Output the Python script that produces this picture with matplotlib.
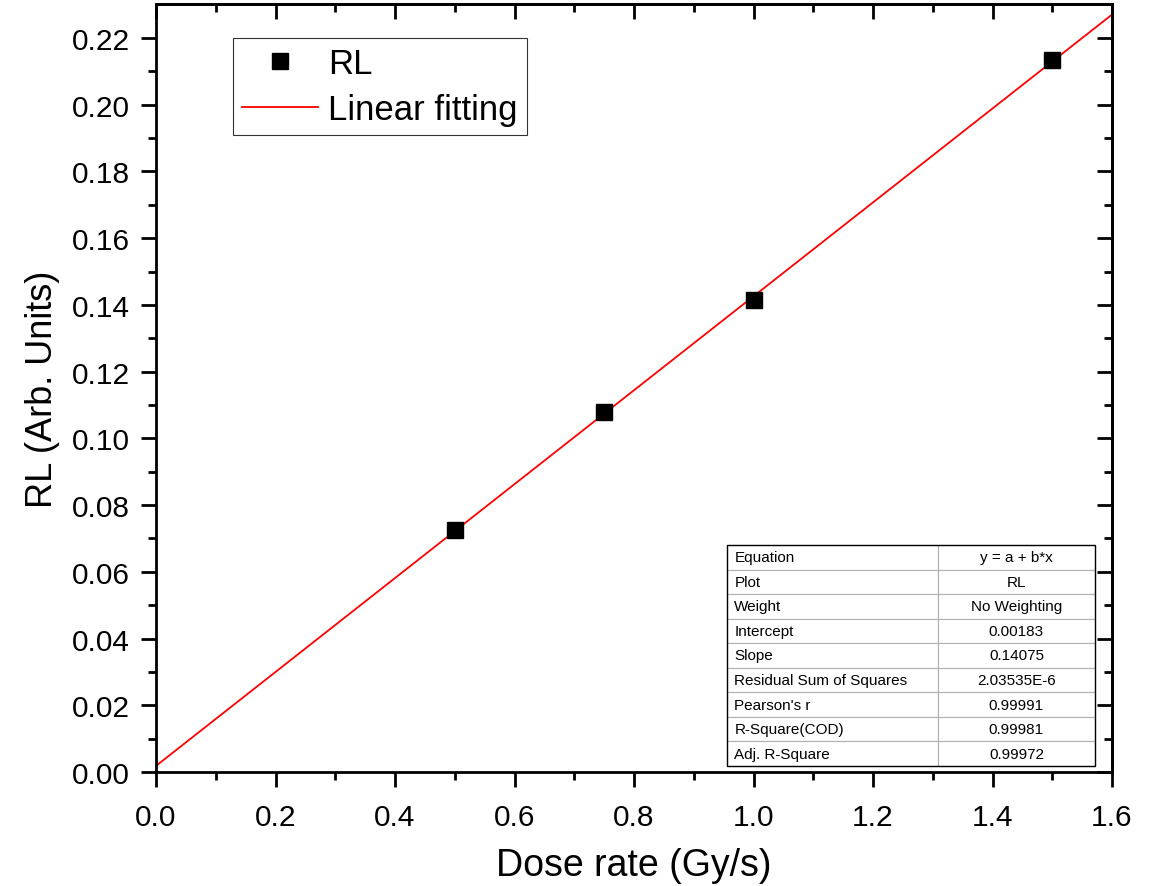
import numpy as np
import matplotlib.pyplot as plt
from matplotlib.patches import Rectangle

plt.rcParams['font.family'] = ['Liberation Sans', 'DejaVu Sans']

dose = [0.5, 0.75, 1.0, 1.5]
rl = [0.0725, 0.108, 0.1415, 0.2135]

intercept = 0.00183
slope = 0.14075

table_names = ["Equation", "Plot", "Weight", "Intercept", "Slope",
               "Residual Sum of Squares", "Pearson's r", "R-Square(COD)",
               "Adj. R-Square"]
table_values = ["y = a + b*x", "RL", "No Weighting", "0.00183", "0.14075",
                "2.03535E-6", "0.99991", "0.99981", "0.99972"]

fig = plt.figure(figsize=(11.55, 8.87), dpi=100)
ax = fig.add_axes([156/1155, 1-773/887, (1112-156)/1155, (773-5)/887])

x_fit = np.linspace(0, 1.6, 2)
ax.plot(dose, rl, linestyle='none', marker='s', markersize=12,
        color='black', label='RL', zorder=3)
ax.plot(x_fit, intercept + slope*x_fit, color='red', linewidth=1.3,
        label='Linear fitting', zorder=2)

ax.set_xlim(0, 1.6)
ax.set_ylim(0, 0.2302)
ax.set_xticks(np.arange(0, 1.61, 0.2))
ax.set_xticks(np.arange(0.1, 1.6, 0.2), minor=True)
ax.set_yticks(np.arange(0, 0.221, 0.02))
ax.set_yticks(np.arange(0.01, 0.23, 0.02), minor=True)
ax.xaxis.set_major_formatter(plt.FormatStrFormatter('%.1f'))
ax.yaxis.set_major_formatter(plt.FormatStrFormatter('%.2f'))

for s in ax.spines.values():
    s.set_linewidth(2)
ax.tick_params(which='major', length=11, width=2, labelsize=21.5)
ax.tick_params(which='minor', length=5.5, width=2)
ax.tick_params(axis='x', which='both', direction='out', pad=11)
ax.tick_params(axis='y', which='both', direction='out', pad=8)

# top and right ticks pointing inwards
axt = ax.secondary_xaxis('top')
axt.set_xticks(np.arange(0, 1.61, 0.2))
axt.set_xticks(np.arange(0.1, 1.6, 0.2), minor=True)
axt.tick_params(which='major', direction='in', length=11, width=2, labeltop=False)
axt.tick_params(which='minor', direction='in', length=5.5, width=2)
axt.spines['top'].set_linewidth(2)
axr = ax.secondary_yaxis('right')
axr.set_yticks(np.arange(0, 0.221, 0.02))
axr.set_yticks(np.arange(0.01, 0.23, 0.02), minor=True)
axr.tick_params(which='major', direction='in', length=11, width=2, labelright=False)
axr.tick_params(which='minor', direction='in', length=5.5, width=2)
axr.spines['right'].set_linewidth(2)

ax.set_xlabel('Dose rate (Gy/s)', fontsize=27, labelpad=12)
ax.set_ylabel('RL (Arb. Units)', fontsize=26, labelpad=8)

leg = ax.legend(loc='upper left', bbox_to_anchor=(0.0805, 0.9557), fontsize=25,
                frameon=True, fancybox=False, handlelength=2.2,
                handletextpad=0.3, borderpad=0.25, labelspacing=0.38,
                borderaxespad=0)
leg.get_frame().set_edgecolor('black')
leg.get_frame().set_linewidth(0.8)

# fit result table
x0 = (727-156)/956
x1 = (1095-156)/956
y0 = (773-767)/768
y1 = (773-546)/768
tbl = ax.table(cellText=[[n, v] for n, v in zip(table_names, table_values)],
               colWidths=[0.573, 0.427], bbox=[x0, y0, x1-x0, y1-y0],
               cellLoc='center')
tbl.auto_set_font_size(False)
tbl.set_fontsize(11)
for (r, c), cell in tbl.get_celld().items():
    cell.set_edgecolor('#b0b0b0')
    cell.set_linewidth(0.8)
    cell.set_facecolor('white')
    if c == 0:
        cell.get_text().set_ha('left')
        cell.PAD = 0.035
tbl.set_zorder(5)
ax.add_patch(Rectangle((x0, y0), x1-x0, y1-y0, transform=ax.transAxes,
                       fill=False, edgecolor='black', linewidth=1.0, zorder=6))

fig.savefig('out.png', dpi=100)
